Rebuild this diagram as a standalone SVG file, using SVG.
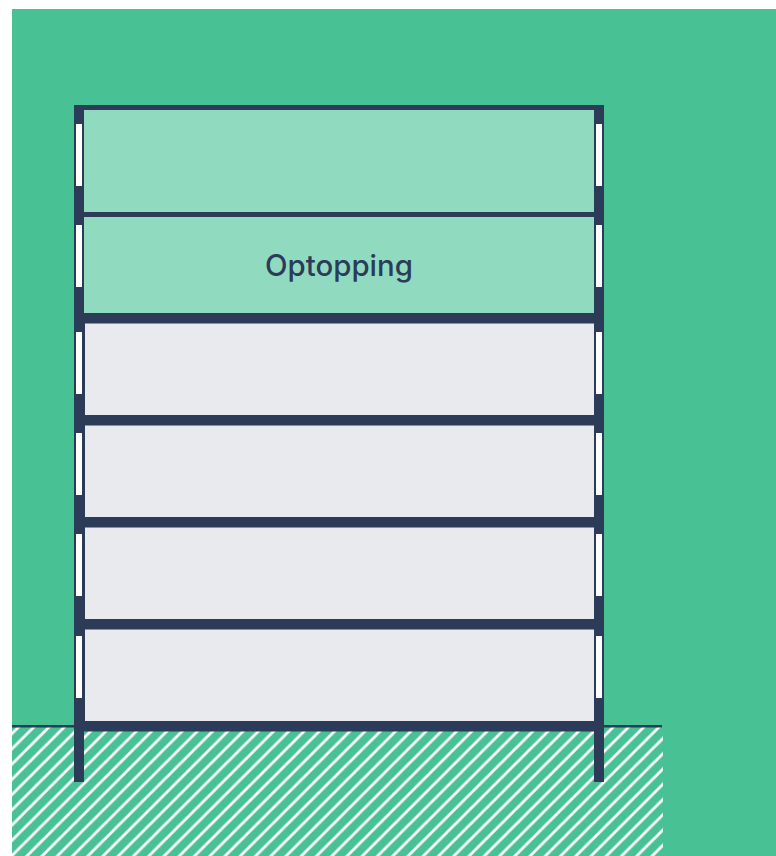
<svg xmlns="http://www.w3.org/2000/svg" width="776" height="856" viewBox="0 0 776 856">
<style>
.frame{fill:#2b3b58}
.win{fill:#fff}
.add{fill:#90dbc0}
.old{fill:#e9eaee}
text{font-family:Inter,"Liberation Sans",sans-serif;font-size:29.4px;font-weight:500;fill:#2b3b58}
</style>
<defs>
<pattern id="hatch" width="15.25" height="15.25" patternUnits="userSpaceOnUse" patternTransform="translate(13.6 0)">
<rect width="15.25" height="15.25" fill="#48c195"/>
<path d="M-4 4L4 -4M-4 19.25L19.25 -4M11.25 19.25L19.25 11.25" stroke="#fff" stroke-width="2.8" fill="none"/>
</pattern>
</defs>
<rect x="12" y="9" width="764" height="847" fill="#48c195"/>
<rect id="ground" x="12" y="727" width="651" height="129" fill="url(#hatch)"/>
<rect id="ground-line" class="frame" x="12" y="725" width="650" height="2.5"/>
<g id="optopping-2"><rect class="add" x="84" y="110" width="511" height="102"/></g>
<g id="optopping-1"><rect class="add" x="84" y="217" width="511" height="96"/>
<text x="339" y="276" text-anchor="middle">Optopping</text></g>
<g id="floor-4"><rect class="old" x="85" y="323" width="509" height="92"/></g>
<g id="floor-3"><rect class="old" x="85" y="425" width="509" height="92"/></g>
<g id="floor-2"><rect class="old" x="85" y="527" width="509" height="92"/></g>
<g id="floor-1"><rect class="old" x="85" y="629" width="509" height="92"/></g>
<g id="structure">
<rect class="frame" x="74" y="105" width="530" height="5"/>
<rect class="frame" x="84" y="212" width="511" height="5"/>
<rect class="frame" x="84" y="313" width="511" height="10.5"/>
<rect class="frame" x="84" y="415" width="511" height="10.5"/>
<rect class="frame" x="84" y="517" width="511" height="10.5"/>
<rect class="frame" x="84" y="619" width="511" height="10.5"/>
<rect class="frame" x="84" y="721" width="511" height="10.5"/>
<rect class="frame" x="74" y="105" width="10" height="677"/>
<rect class="frame" x="84" y="313" width="1" height="418"/>
<rect class="frame" x="594" y="105" width="10" height="677"/>
</g>
<g id="windows">
<rect class="win" x="76" y="124" width="6" height="62"/>
<rect class="win" x="76" y="225" width="6" height="62"/>
<rect class="win" x="76" y="332" width="6" height="62"/>
<rect class="win" x="76" y="433" width="6" height="62"/>
<rect class="win" x="76" y="534" width="6" height="62"/>
<rect class="win" x="76" y="636" width="6" height="62"/>
<rect class="win" x="596" y="124" width="6" height="62"/>
<rect class="win" x="596" y="225" width="6" height="62"/>
<rect class="win" x="596" y="332" width="6" height="62"/>
<rect class="win" x="596" y="433" width="6" height="62"/>
<rect class="win" x="596" y="534" width="6" height="62"/>
<rect class="win" x="596" y="636" width="6" height="62"/>
</g>
</svg>
